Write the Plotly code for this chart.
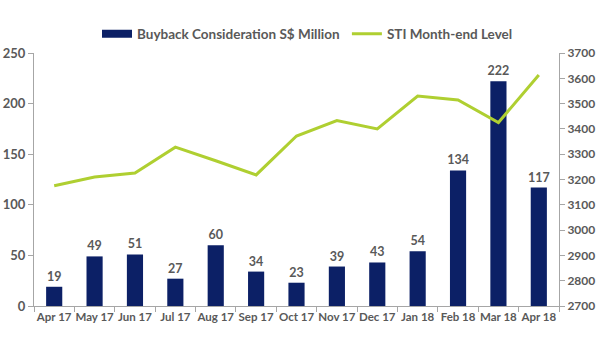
import plotly.graph_objects as go

months = ["Apr 17", "May 17", "Jun 17", "Jul 17", "Aug 17", "Sep 17", "Oct 17",
          "Nov 17", "Dec 17", "Jan 18", "Feb 18", "Mar 18", "Apr 18"]
buyback = [19, 49, 51, 27, 60, 34, 23, 39, 43, 54, 134, 222, 117]
sti = [3175, 3210, 3226, 3328, 3274, 3218, 3372, 3433, 3400, 3530, 3514, 3425, 3613]

left_ticks = [0, 50, 100, 150, 200, 250]
right_ticks = [2700, 2800, 2900, 3000, 3100, 3200, 3300, 3400, 3500, 3600, 3700]

NAVY = "#0C2066"
GREEN = "#AFCF31"
GREY_TXT = "#595959"
AXIS = "#A6A6A6"
FONT = "Lato"

fig = go.Figure()
fig.add_trace(go.Bar(
    x=months, y=buyback, name="Buyback Consideration S$ Million",
    marker=dict(color=NAVY, line=dict(width=0)),
    text=[str(v) for v in buyback], textposition="outside", constraintext="none",
    textfont=dict(family=FONT, size=12.5, color=GREY_TXT, weight="bold"),
    cliponaxis=False, yaxis="y", showlegend=False,
))
# legend-only entry giving the wide rectangular swatch of the bar series
fig.add_trace(go.Scatter(
    x=[None], y=[None], name="Buyback Consideration S$ Million", mode="lines",
    line=dict(color=NAVY, width=8), legend="legend", showlegend=True,
))
fig.add_trace(go.Scatter(
    x=months, y=sti, name="STI Month-end Level", mode="lines",
    line=dict(color=GREEN, width=3), yaxis="y2", legend="legend2",
))

legend_font = dict(family=FONT, size=13.5, color=GREY_TXT, weight="bold")
fig.update_layout(
    width=600, height=360,
    margin=dict(l=34, r=41, t=53, b=54, autoexpand=False),
    paper_bgcolor="white", plot_bgcolor="white",
    bargap=0.6,
    font=dict(family=FONT, color=GREY_TXT, size=11),
    showlegend=True,
    legend=dict(orientation="h", x=0.12, xanchor="left", y=1.075, yanchor="middle",
                font=legend_font, itemwidth=30, bgcolor="rgba(0,0,0,0)"),
    legend2=dict(orientation="h", x=0.596, xanchor="left", y=1.075, yanchor="middle",
                 font=legend_font, itemwidth=30, bgcolor="rgba(0,0,0,0)"),
    xaxis=dict(type="category", showline=True, linecolor=AXIS, linewidth=1,
               ticks="outside", tickson="boundaries", ticklen=5, tickcolor=AXIS,
               showgrid=False, tickangle=0, automargin=False,
               tickfont=dict(family=FONT, size=11.5, color=GREY_TXT, weight="bold")),
    yaxis=dict(range=[0, 250], tickvals=left_ticks, showline=True, linecolor=AXIS,
               ticks="outside", ticklen=5, tickcolor=AXIS, showgrid=False, zeroline=False,
               automargin=False,
               tickfont=dict(family=FONT, size=13, color=GREY_TXT, weight="bold")),
    yaxis2=dict(range=[2700, 3700], tickvals=right_ticks, overlaying="y", side="right",
                showline=True, linecolor=AXIS, ticks="outside", ticklen=5, tickcolor=AXIS,
                showgrid=False, zeroline=False, automargin=False,
                tickfont=dict(family=FONT, size=12, color=GREY_TXT, weight="bold")),
)

fig.write_html("out.html", config={"displayModeBar": False},
               post_script="document.body.style.margin='0';")
